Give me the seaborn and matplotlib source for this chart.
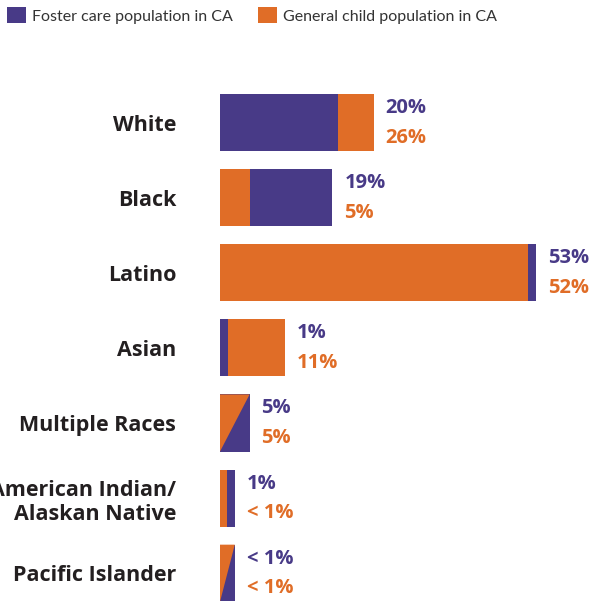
import numpy as np
import pandas as pd
import matplotlib
matplotlib.use("Agg")
import matplotlib.pyplot as plt
from matplotlib.patches import Patch, Polygon
import seaborn as sns

# data
groups = ["White", "Black", "Latino", "Asian", "Multiple Races",
          "American Indian/\nAlaskan Native", "Pacific Islander"]
foster = [20, 19, 53.4, 1.3, 5, 2.5, 2.5]
general = [26, 5, 52, 11, 5, 1.2, 2.5]
foster_labels = ["20%", "19%", "53%", "1%", "5%", "1%", "< 1%"]
general_labels = ["26%", "5%", "52%", "11%", "5%", "< 1%", "< 1%"]

purple = "#483A87"
orange = "#E06D27"

sns.set_style("white")
plt.rcParams['font.family'] = ['Open Sans', 'DejaVu Sans']

df = pd.DataFrame({'Group': groups, 'Foster': foster, 'General': general})

fig = plt.figure(figsize=(5.89, 6.01), dpi=100)
ax = fig.add_axes([220 / 589, 0, 367 / 589, 521 / 601])

sns.barplot(data=df, x='Foster', y='Group', color=purple, width=0.76,
            saturation=1, ax=ax)
sns.barplot(data=df, x='General', y='Group', color=orange, width=0.76,
            saturation=1, ax=ax)

n = len(groups)
foster_bars = ax.patches[:n]
general_bars = ax.patches[n:2 * n]
for i in range(n):
    fb, gb = foster_bars[i], general_bars[i]
    fb.set_linewidth(0)
    gb.set_linewidth(0)
    if foster[i] < general[i]:
        fb.set_zorder(3)
        gb.set_zorder(2)
    elif foster[i] > general[i]:
        fb.set_zorder(2)
        gb.set_zorder(3)
    else:
        # equal shares: split the bar on the diagonal
        fb.set_zorder(2)
        gb.set_visible(False)
        x0, y0, w, h = fb.get_x(), fb.get_y(), fb.get_width(), fb.get_height()
        tri = Polygon([(x0, y0), (x0 + w, y0), (x0, y0 + h)], closed=True,
                      facecolor=orange, edgecolor='none', zorder=3)
        ax.add_patch(tri)

    end = max(foster[i], general[i])
    ax.annotate(foster_labels[i], xy=(end, i), xytext=(8.5, 10.5),
                textcoords='offset points', ha='left', va='center',
                color=purple, fontsize=14.5, fontweight='bold')
    ax.annotate(general_labels[i], xy=(end, i), xytext=(8.5, -11),
                textcoords='offset points', ha='left', va='center',
                color=orange, fontsize=14.5, fontweight='bold')

ax.set_xlim(0, 62)
ax.set_ylim(6.37, -0.566)
ax.set_xlabel('')
ax.set_ylabel('')
ax.set_xticks([])
ax.tick_params(axis='y', length=0, pad=31.5, labelsize=15.5, colors='#231F20')
for lbl in ax.get_yticklabels():
    lbl.set_fontweight('bold')
sns.despine(ax=ax, left=True, bottom=True)

handles = [Patch(facecolor=purple, edgecolor='none', label='Foster care population in CA'),
           Patch(facecolor=orange, edgecolor='none', label='General child population in CA')]
fig.legend(handles=handles, loc='upper left', bbox_to_anchor=(0.0, 1.0), ncol=2,
           frameon=False, prop={'family': 'Lato', 'size': 11.5},
           handlelength=1.15, handleheight=1.15,
           handletextpad=0.4, columnspacing=1.6, borderaxespad=0.15,
           borderpad=0.3, labelcolor='#333333')

fig.savefig('out.png', dpi=100)
